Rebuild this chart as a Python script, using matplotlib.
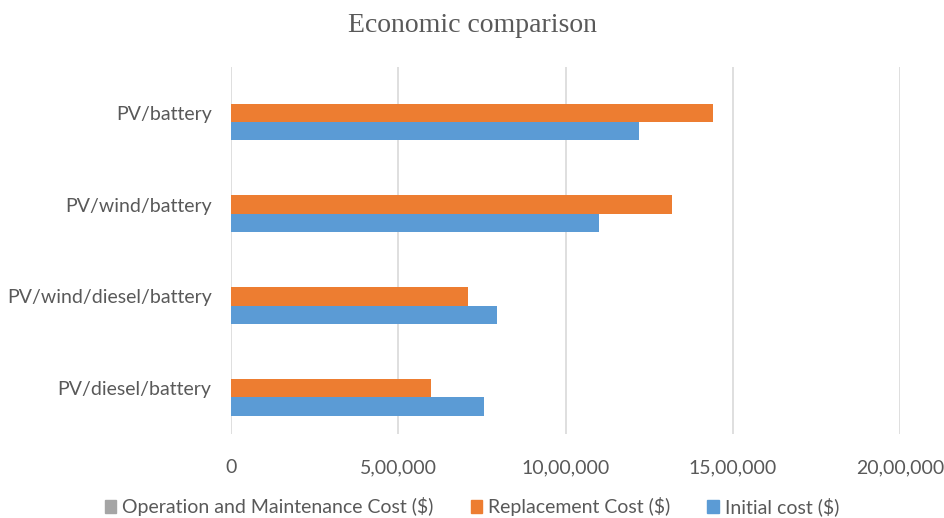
import matplotlib
matplotlib.use("Agg")
import matplotlib.pyplot as plt
import numpy as np
from matplotlib.patches import Patch

categories = ["PV/diesel/battery", "PV/wind/diesel/battery", "PV/wind/battery", "PV/battery"]
initial_cost = [756000, 796000, 1101000, 1221000]
replacement_cost = [598000, 710000, 1317000, 1440000]
om_cost = [0, 0, 0, 0]
series_names = ["Operation and Maintenance Cost ($)", "Replacement Cost ($)", "Initial cost ($)"]
colors = ["#A5A5A5", "#ED7D31", "#5B9BD5"]
xticks = [0, 500000, 1000000, 1500000, 2000000]
xtick_labels = ["0", "5,00,000", "10,00,000", "15,00,000", "20,00,000"]

plt.rcParams['font.family'] = ['Lato', 'DejaVu Sans']

fig = plt.figure(figsize=(9.44, 5.18), dpi=100)
ax = fig.add_axes([231/944, 1-434/518, (900-231)/944, (434-67)/518])

y = np.arange(len(categories))
h = 0.2
ax.barh(y - h, initial_cost, height=h, color=colors[2], zorder=3)
ax.barh(y, replacement_cost, height=h, color=colors[1], zorder=3)
ax.barh(y + h, om_cost, height=h, color=colors[0], zorder=3)

ax.set_ylim(-0.5, len(categories) - 0.5)
ax.set_xlim(0, 2000000)
ax.set_xticks(xticks)
ax.set_xticklabels(xtick_labels)
ax.set_yticks(y)
ax.set_yticklabels(categories)
ax.grid(axis='x', color='#D9D9D9', linewidth=1.2, zorder=0)
for s in ax.spines.values():
    s.set_visible(False)
ax.tick_params(axis='both', length=0, colors='#595959', labelsize=14)
ax.tick_params(axis='x', pad=18)
ax.tick_params(axis='y', pad=14)

fig.text(0.5, 1-26/518, "Economic comparison", ha='center', va='center',
         fontsize=20, color='#595959', family=['Liberation Serif', 'DejaVu Serif'])

handles = [Patch(color=c) for c in colors]
fig.legend(handles, series_names, loc='center', bbox_to_anchor=(0.5, 1-507/518),
           ncol=3, frameon=False, fontsize=14, labelcolor='#595959',
           handlelength=0.6, handleheight=0.6, handletextpad=0.3, columnspacing=1.9)

fig.savefig("out.png", dpi=100)
